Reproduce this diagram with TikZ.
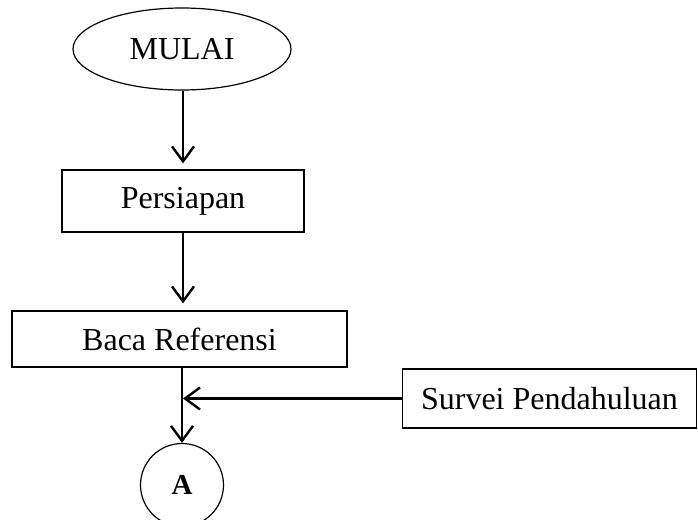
\documentclass[tikz,border=0pt]{standalone}
\usepackage{fontspec}
\setmainfont{Liberation Serif}
\usetikzlibrary{shapes.geometric,arrows.meta}
\begin{document}
\begin{tikzpicture}[x=1pt,y=-1pt,
  every node/.style={font=\fontsize{32}{38}\selectfont, inner sep=0pt},
  procbox/.style={draw, line width=1.2pt, rectangle},
  flow/.style={line width=2.4pt, -{Straight Barb[length=15pt,width=22pt,line width=2.4pt]}}]
  \useasboundingbox (0,0) rectangle (698,519);
  % start terminal
  \node[draw, line width=1.2pt, ellipse, minimum width=218pt, minimum height=82pt] (mulai) at (182,49) {MULAI};
  % process steps
  \node[procbox, minimum width=242pt, minimum height=62pt] (persiapan) at (183,201) {Persiapan};
  \node[procbox, minimum width=335pt, minimum height=56pt] (baca) at (179.5,339) {Baca Referensi};
  \node[procbox, minimum width=294pt, minimum height=59pt] (survei) at (549.5,398.5) {Survei Pendahuluan};
  % off-page connector
  \node[draw, line width=1.2pt, circle, minimum size=83pt, font=\fontsize{29}{34}\bfseries] (a) at (182,485) {A};
  % connectors
  \draw[flow, shorten >=6pt] (mulai.south -| persiapan.north) -- (persiapan.north);
  \draw[flow, shorten >=7pt] (persiapan.south) -- (persiapan.south |- baca.north);
  \draw[flow] (a.north |- baca.south) -- (a.north);
  \draw[flow] (survei.west) -- ([xshift=1pt]survei.west -| a.north);
\end{tikzpicture}
\end{document}
